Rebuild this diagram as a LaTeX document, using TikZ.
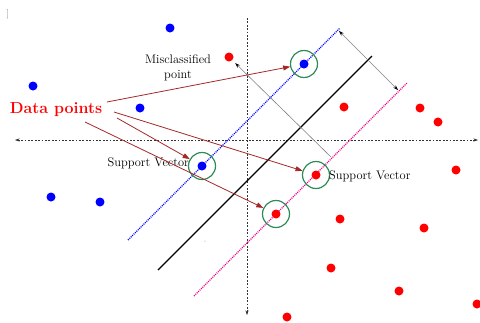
\documentclass[tikz,border=0pt]{standalone}
\usetikzlibrary{arrows.meta}
\definecolor{svgreen}{RGB}{46,139,87}
\definecolor{arrred}{RGB}{165,40,40}
\begin{document}
\begin{tikzpicture}[x=1pt,y=-1pt,
  bluept/.style={circle,fill=blue,inner sep=0pt,minimum size=9pt},
  redpt/.style={circle,fill=red,inner sep=0pt,minimum size=9pt},
  ring/.style={circle,draw=svgreen,line width=1.2pt,inner sep=0pt,minimum size=27pt},
  axis/.style={dash pattern=on 1.8pt off 1.6pt,line width=0.45pt,draw=black!80},
  axtip/.style={-{Stealth[length=4.5pt,width=3pt]}},
  pointer/.style={draw=arrred,line width=0.8pt,-{Triangle[length=7pt,width=5pt]}},
  gauge/.style={draw=gray,line width=0.6pt},
  gtip/.style={{Stealth[length=5pt,width=3.5pt,black]}-{Stealth[length=5pt,width=3.5pt,black]}},
  caption/.style={font=\fontsize{12.4}{14.5}\selectfont,align=center,inner sep=0pt},
  margin/.style={line width=1.2pt,dash pattern=on 1pt off 1pt}]
\useasboundingbox (0,0) rectangle (480,322);

% stray mark in the corner
\node[font=\fontsize{9}{9}\selectfont,text=gray,inner sep=0pt] (mark) at (8,14) {]};

% axes
\coordinate (xl) at (15,140);
\coordinate (xr) at (478,140);
\coordinate (yt) at (247,18);
\coordinate (yb) at (247,315);
\draw[axis,{Stealth[length=4.5pt,width=3pt]}-{Stealth[length=4.5pt,width=3pt]}] (xl) -- (xr);
\draw[axis,axtip] (yt) -- (yb);

% separating hyperplane and margins
\coordinate (b1) at (128,240); \coordinate (b2) at (340,28);
\coordinate (h1) at (158,270); \coordinate (h2) at (372,56);
\coordinate (m1) at (194,296); \coordinate (m2) at (407,83);
\draw[margin,blue] (b1) -- (b2);
\draw[line width=1.3pt,black] (h1) -- (h2);
\draw[margin,magenta] (m1) -- (m2);

% margin width
\coordinate (w1) at (339,31);
\coordinate (w2) at (398,90);
\draw[gauge,gtip] (w1) -- (w2);

% blue class
\node[bluept] (p1) at (170,28) {};
\node[bluept] (p2) at (33,86) {};
\node[bluept] (p3) at (140,108) {};
\node[bluept] (p4) at (51,197) {};
\node[bluept] (p5) at (100,202) {};
\node[bluept] (bs) at (202,166) {};
\node[bluept] (bm) at (304,64) {};

% red class
\node[redpt] (r0) at (229,57) {};
\node[redpt] (r1) at (344,107) {};
\node[redpt] (r2) at (420,108) {};
\node[redpt] (r3) at (438,122) {};
\node[redpt] (r4) at (456,170) {};
\node[redpt] (r5) at (340,219) {};
\node[redpt] (r6) at (424,228) {};
\node[redpt] (r7) at (331,268) {};
\node[redpt] (r8) at (399,291) {};
\node[redpt] (r9) at (477,304) {};
\node[redpt] (r10) at (287,317) {};
\node[redpt] (rs1) at (316,175) {};
\node[redpt] (rs2) at (276,214) {};

% small speck
\fill[gray] (205,241) circle (0.5pt);

% support vector rings
\node[ring] (cbm) at (bm) {};
\node[ring] (cbs) at (bs) {};
\node[ring] (crs1) at (rs1) {};
\node[ring] (crs2) at (rs2) {};

% pointer to the misclassified red point
\coordinate (g0) at (331,157);
\draw[gauge,-{Stealth[length=5pt,width=3.5pt,black]},shorten >=4pt] (g0) -- (r0);

% labels
\node[caption] (mis) at (178,68) {Misclassified\\point};
\node[caption,anchor=east] (svl) at (189,163) {Support Vector};
\node[caption,anchor=west] (svr) at (329,176) {Support Vector};
\node[font=\fontsize{16}{19}\selectfont\bfseries,text=red,inner sep=0pt] (dp) at (56,110) {Data points};

% arrows from the data points label
\coordinate (s1) at (107,102);
\coordinate (s2) at (114,112);
\coordinate (s3) at (117,118);
\coordinate (s4) at (85,122);
\draw[pointer] (s1) -- (cbm);
\draw[pointer] (s2) -- (crs1);
\draw[pointer] (s3) -- (cbs);
\draw[pointer] (s4) -- (crs2);
\end{tikzpicture}
\end{document}
